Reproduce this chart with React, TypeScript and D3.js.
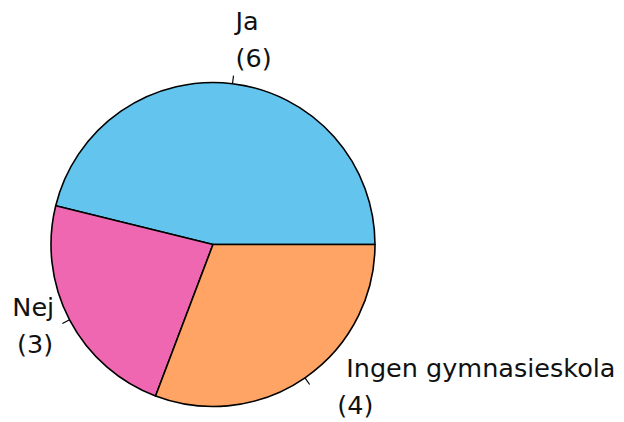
import React from 'react';
import * as d3 from 'd3';

// svar på enkätfrågan
const categories = ['Ja', 'Nej', 'Ingen gymnasieskola'];
const counts = [6, 3, 4];
const colors = ['#63C4EE', '#F067B1', '#FFA464'];

const W = 624;
const H = 422;
const cx = 213;
const cy = 244.5;
const R = 162;
const fontSize = 25.5;
const lineH = 37;

// small manual nudges so the labels sit like in the original
const nudge: Record<string, { dx1: number; dx2: number; dy: number }> = {
  'Ja': { dx1: 1, dx2: 1, dy: -38 },
  'Nej': { dx1: -1, dx2: -2, dy: -11 },
  'Ingen gymnasieskola': { dx1: 32, dx2: 23, dy: -14 },
};

export default function App() {
  const pie = d3.pie<number>()
    .sort(null)
    .startAngle(Math.PI / 2)
    .endAngle(Math.PI / 2 - 2 * Math.PI);
  const arcs = pie(counts);
  const arc = d3.arc<d3.PieArcDatum<number>>().innerRadius(0).outerRadius(R);

  return (
    <svg width={W} height={H} style={{ position: 'absolute', left: 0, top: 0, background: '#fff' }}>
      <g transform={`translate(${cx},${cy})`}>
        {arcs.map((a, i) => (
          <path key={i} d={arc(a) || ''} fill={colors[i]} stroke="#000" strokeWidth={1.6} strokeLinejoin="round" />
        ))}
        {arcs.map((a, i) => {
          const m = (a.startAngle + a.endAngle) / 2;
          const sx = Math.sin(m), sy = -Math.cos(m);
          const name = categories[i];
          const n = nudge[name];
          const tx = 1.1 * R * sx, ty = 1.1 * R * sy;
          const anchor = sx < 0 ? 'end' : 'start';
          return (
            <g key={'l' + i}>
              <line x1={R * sx} y1={R * sy} x2={1.05 * R * sx} y2={1.05 * R * sy} stroke="#000" strokeWidth={1.2} />
              <text fontFamily="DejaVu Sans, Verdana, sans-serif" fontSize={fontSize} fill="#111" textAnchor={anchor}>
                <tspan x={tx + n.dx1} y={ty + n.dy}>{name}</tspan>
                <tspan x={tx + n.dx2} y={ty + n.dy + lineH}>({counts[i]})</tspan>
              </text>
            </g>
          );
        })}
      </g>
    </svg>
  );
}
